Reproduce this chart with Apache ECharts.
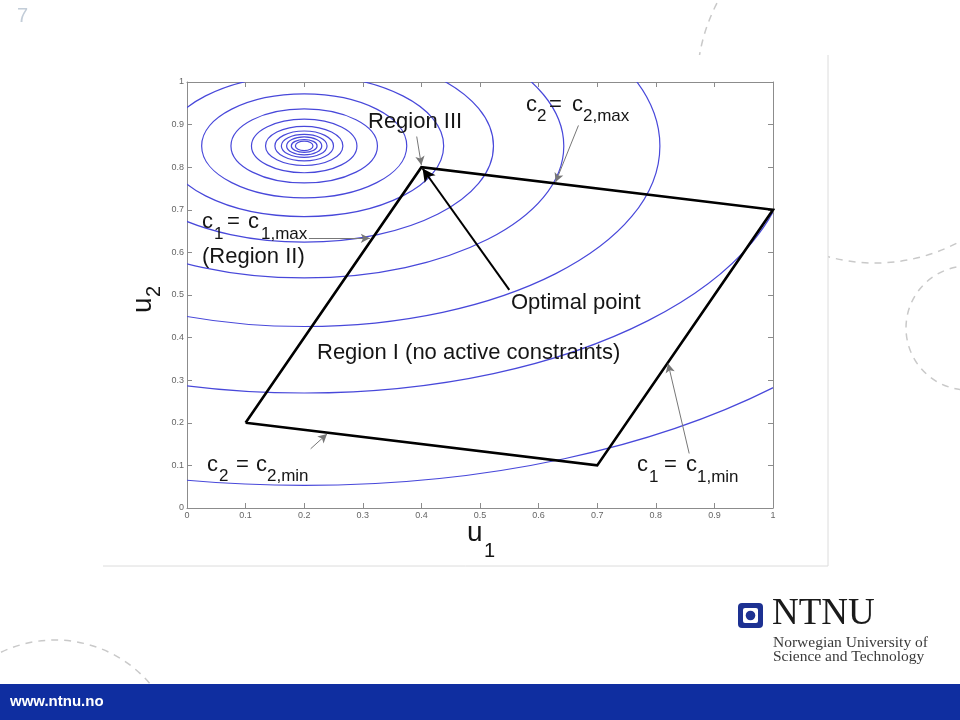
<!DOCTYPE html>
<html><head><meta charset="utf-8">
<script src="https://cdn.jsdelivr.net/npm/echarts@6/dist/echarts.min.js"></script>
<style>html,body{margin:0;padding:0;background:#fff}#c{width:960px;height:720px}</style>
</head><body><div id="c"></div>
<script>
// ---- data ----
const xTickLabels = ['0','0.1','0.2','0.3','0.4','0.5','0.6','0.7','0.8','0.9','1'];
const yTickLabels = ['0','0.1','0.2','0.3','0.4','0.5','0.6','0.7','0.8','0.9','1'];
// cost contours: ellipses around the unconstrained optimum
const contourCenterU1 = 0.2;
const contourCenterU2 = 0.85;
const contourRx = [1.14, 0.83, 0.607, 0.443, 0.323, 0.238, 0.175, 0.125, 0.09, 0.066, 0.05, 0.039, 0.03, 0.022, 0.015];
const contourRy = [0.797, 0.58, 0.424, 0.31, 0.226, 0.166, 0.122, 0.087, 0.063, 0.046, 0.035, 0.027, 0.021, 0.015, 0.011];
// feasible region (constraints polygon)
const regionU1 = [0.1, 0.4, 1.0, 0.7, 0.1];
const regionU2 = [0.2, 0.8, 0.7, 0.1, 0.2];
// annotation arrows (data coordinates): from -> to
const thinArrowFromU1 = [0.392, 0.668, 0.208, 0.211, 0.857];
const thinArrowFromU2 = [0.872, 0.898, 0.633, 0.139, 0.128];
const thinArrowToU1   = [0.400, 0.629, 0.312, 0.239, 0.821];
const thinArrowToU2   = [0.805, 0.765, 0.633, 0.174, 0.339];
const optArrowFrom = [0.550, 0.512];
const optArrowTo   = [0.402, 0.797];

// ---- chart ----
const FONT = '"Liberation Sans", Arial, sans-serif';
const SERIF = '"Liberation Serif", "Times New Roman", serif';
const chart = echarts.init(document.getElementById('c'), null, {renderer: 'canvas', width: 960, height: 720});

function txt(x, base, s, size, opt) {
  opt = opt || {};
  return {
    type: 'text', x: x, y: base - 0.35 * size, z: opt.z || 50, silent: true,
    style: {text: s, font: (opt.weight || 'normal') + ' ' + size + 'px ' + (opt.family || FONT),
            fill: opt.color || '#151515', verticalAlign: 'middle', align: 'left'}
  };
}

const axisCol = '#8c8c8c';
function mkAxis(pos, showLabel, labels) {
  return {
    type: 'value', min: 0, max: 1, interval: 0.1, position: pos,
    axisLine: {show: true, onZero: false, lineStyle: {color: axisCol, width: 1}},
    axisTick: {show: true, inside: true, length: 5, lineStyle: {color: axisCol, width: 1}},
    axisLabel: {show: showLabel, margin: 3, fontSize: 9, color: '#666', fontFamily: FONT,
                formatter: function (v) { return labels[Math.round(v * 10)]; }},
    splitLine: {show: false}
  };
}

const graphics = [
  // slide decoration
  {type: 'circle', z: -20, silent: true, shape: {cx: 875, cy: 85, r: 178},
   style: {fill: 'none', stroke: '#c9c9c9', lineWidth: 1.5, lineDash: [7, 6]}},
  {type: 'circle', z: -20, silent: true, shape: {cx: 968, cy: 328, r: 62},
   style: {fill: 'none', stroke: '#c9c9c9', lineWidth: 1.5, lineDash: [7, 6]}},
  {type: 'circle', z: -20, silent: true, shape: {cx: 55, cy: 765, r: 125},
   style: {fill: 'none', stroke: '#c9c9c9', lineWidth: 1.5, lineDash: [7, 6]}},
  {type: 'rect', z: -10, silent: true, shape: {x: 103, y: 55, width: 725, height: 511}, style: {fill: '#fff'}},
  {type: 'line', z: -9, silent: true, shape: {x1: 828, y1: 55, x2: 828, y2: 566}, style: {stroke: '#dcdcdc', lineWidth: 1}},
  {type: 'line', z: -9, silent: true, shape: {x1: 103, y1: 566, x2: 828, y2: 566}, style: {stroke: '#dcdcdc', lineWidth: 1}},
  {type: 'rect', z: 60, silent: true, shape: {x: 0, y: 684, width: 960, height: 36}, style: {fill: '#0f2ea0'}},
  txt(10, 707, 'www.ntnu.no', 15, {weight: 'bold', color: '#ffffff', z: 61}),
  txt(17, 23, '7', 20, {color: '#c3cdd8'}),
  // NTNU logo
  {type: 'rect', z: 50, silent: true, shape: {x: 738, y: 603, width: 25, height: 25, r: 4}, style: {fill: '#1d3192'}},
  {type: 'rect', z: 51, silent: true, shape: {x: 743, y: 608, width: 15, height: 15, r: 2}, style: {fill: '#fff'}},
  {type: 'circle', z: 52, silent: true, shape: {cx: 750.5, cy: 615.5, r: 4.8}, style: {fill: '#1d3192'}},
  txt(772, 627, 'NTNU', 37, {family: SERIF, color: '#1a1a1a'}),
  txt(773, 648, 'Norwegian University of', 15.5, {family: SERIF, color: '#3a3a3a'}),
  txt(773, 662, 'Science and Technology', 15.5, {family: SERIF, color: '#3a3a3a'}),
  // chart annotations
  txt(368, 130, 'Region III', 22),
  txt(526, 113, 'c', 22), txt(537, 122, '2', 17), txt(549, 113, '=', 22), txt(572, 113, 'c', 22), txt(583, 122, '2,max', 17),
  txt(202, 230, 'c', 22), txt(214, 240, '1', 17), txt(227, 230, '=', 22), txt(248, 230, 'c', 22), txt(261, 240, '1,max', 17),
  txt(202, 265, '(Region II)', 22),
  txt(511, 311, 'Optimal point', 22),
  txt(317, 361, 'Region I (no active constraints)', 22),
  txt(207, 473, 'c', 22), txt(219, 482, '2', 17), txt(236, 473, '=', 22), txt(256, 473, 'c', 22), txt(267, 482, '2,min', 17),
  txt(637, 473, 'c', 22), txt(649, 483, '1', 17), txt(664, 473, '=', 22), txt(686, 473, 'c', 22), txt(697, 483, '1,min', 17),
  // axis titles
  txt(467, 543, 'u', 28), txt(484, 558, '1', 20),
  {type: 'group', x: 153, y: 313, rotation: Math.PI / 2, z: 50,
   children: [txt(0, 0, 'u', 28), txt(16, 8, '2', 20)]}
];

const option = {
  animation: false,
  backgroundColor: '#ffffff',
  textStyle: {fontFamily: FONT},
  grid: {left: 187, top: 82, width: 586, height: 426, show: false},
  xAxis: [mkAxis('bottom', true, xTickLabels), mkAxis('top', false, xTickLabels)],
  yAxis: [mkAxis('left', true, yTickLabels), mkAxis('right', false, yTickLabels)],
  graphic: {elements: graphics},
  series: [
    {
      type: 'custom', name: 'contours', coordinateSystem: 'cartesian2d', xAxisIndex: 0, yAxisIndex: 0,
      clip: true, silent: true, z: 2,
      data: contourRx.map(function (rx, i) { return [contourCenterU1, contourCenterU2, rx, contourRy[i]]; }),
      renderItem: function (params, api) {
        const c = api.coord([api.value(0), api.value(1)]);
        const s = api.size([api.value(2), api.value(3)]);
        return {type: 'ellipse', shape: {cx: c[0], cy: c[1], rx: s[0], ry: s[1]},
                style: {fill: 'none', stroke: '#4848da', lineWidth: 1.2}};
      }
    },
    {
      type: 'line', name: 'region', xAxisIndex: 0, yAxisIndex: 0, z: 4, silent: true,
      data: regionU1.map(function (x, i) { return [x, regionU2[i]]; }),
      symbol: 'none', showSymbol: false,
      lineStyle: {color: '#000', width: 2.6, join: 'miter'}
    },
    {
      type: 'line', name: 'thinArrows', xAxisIndex: 0, yAxisIndex: 0, z: 5, data: [],
      markLine: {
        silent: true, animation: false, symbol: ['none', 'arrow'], symbolSize: [7, 9],
        label: {show: false}, itemStyle: {color: '#444'},
        lineStyle: {color: '#777', width: 1, type: 'solid'},
        data: thinArrowFromU1.map(function (x, i) {
          return [{coord: [x, thinArrowFromU2[i]]}, {coord: [thinArrowToU1[i], thinArrowToU2[i]]}];
        })
      }
    },
    {
      type: 'line', name: 'optArrow', xAxisIndex: 0, yAxisIndex: 0, z: 5, data: [],
      markLine: {
        silent: true, animation: false, symbol: ['none', 'arrow'], symbolSize: [10, 13],
        label: {show: false}, itemStyle: {color: '#000'},
        lineStyle: {color: '#000', width: 2, type: 'solid'},
        data: [[{coord: optArrowFrom}, {coord: optArrowTo}]]
      }
    }
  ]
};
chart.setOption(option);
</script>
</body></html>
